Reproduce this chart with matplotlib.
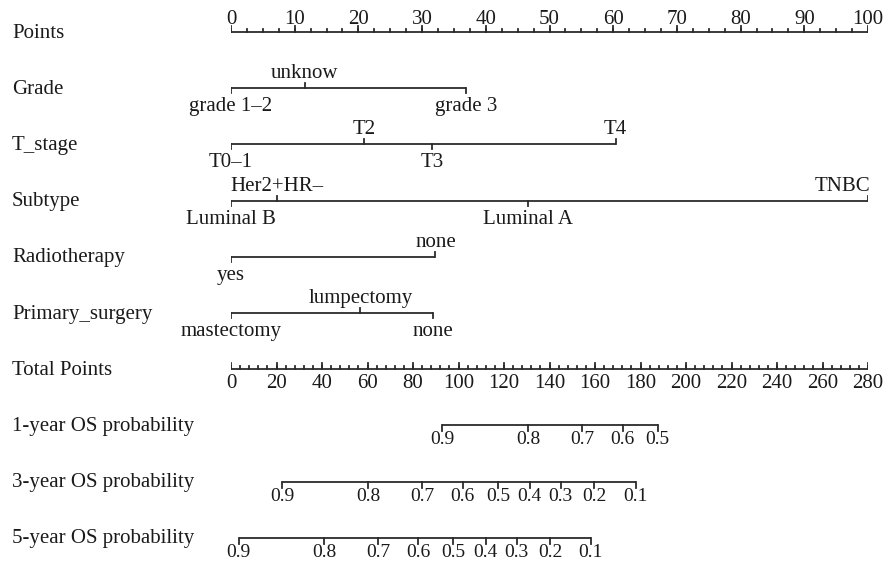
import numpy as np
import matplotlib.pyplot as plt

plt.rcParams['font.family'] = ['Liberation Serif', 'DejaVu Serif']

# row labels, top to bottom
row_names = ['Points', 'Grade', 'T_stage', 'Subtype', 'Radiotherapy',
             'Primary_surgery', 'Total Points', '1-year OS probability',
             '3-year OS probability', '5-year OS probability']

# points scale
points_major = np.arange(0, 101, 10)
points_minor = np.arange(0, 100.1, 2.5)

# predictors: level names and their points
grade_levels = ['grade 1–2', 'unknow', 'grade 3']
grade_points = [0, 11.6, 36.9]
tstage_levels = ['T0–1', 'T2', 'T3', 'T4']
tstage_points = [0, 20.9, 31.6, 60.4]
subtype_levels = ['Luminal B', 'Her2+HR–', 'Luminal A', 'TNBC']
subtype_points = [0, 7.2, 46.6, 100]
radio_levels = ['yes', 'none']
radio_points = [0, 32.1]
surgery_levels = ['mastectomy', 'lumpectomy', 'none']
surgery_points = [0, 20.3, 31.7]

# total points scale
total_max = 280
total_major = np.arange(0, 281, 20)
total_minor = np.arange(0, 281, 4)

# survival probability scales (value -> total points)
os1_probs = [0.9, 0.8, 0.7, 0.6, 0.5]
os1_total = [92.9, 130.5, 154.3, 172.2, 187.6]
os3_probs = [0.9, 0.8, 0.7, 0.6, 0.5, 0.4, 0.3, 0.2, 0.1]
os3_total = [22.4, 60.4, 84.0, 101.8, 117.4, 131.3, 144.9, 159.6, 177.9]
os5_probs = [0.9, 0.8, 0.7, 0.6, 0.5, 0.4, 0.3, 0.2, 0.1]
os5_total = [3.4, 40.9, 64.6, 82.3, 97.7, 111.9, 125.6, 140.2, 158.1]

W, H = 888, 567
fig = plt.figure(figsize=(W / 100, H / 100), dpi=100)
x0_px, x1_px = 231, 868
row0_px, row_gap = 32, 56.2
ax = fig.add_axes([x0_px / W, 0, (x1_px - x0_px) / W, 1])
ax.set_xlim(0, 100)
ax.set_ylim(-(H - row0_px) / row_gap, row0_px / row_gap)
ax.axis('off')

px = 1 / row_gap  # one pixel in y data units
xpx = 100 / (x1_px - x0_px)  # one pixel in x data units
col = '#2b2b2b'
tcol = '#1a1a1a'
lw = 1.3
fs = 15

for i, name in enumerate(row_names):
    ax.text(-(x0_px - 12) * xpx, -i - 1 * px, name, fontsize=fs,
            ha='left', va='center', color=tcol, clip_on=False)

# Points axis
y = 0
ax.plot([0, 100], [y, y], color=col, lw=lw, solid_capstyle='butt')
for v in points_minor:
    ax.plot([v, v], [y, y + 3 * px], color=col, lw=lw)
for v in points_major:
    ax.plot([v, v], [y, y + 6 * px], color=col, lw=lw)
    ax.text(v, y + 3 * px, f'{v:d}', fontsize=fs, ha='center', va='bottom',
            color=tcol)


def cat_axis(row, levels, pts):
    y = -row
    ax.plot([min(pts), max(pts)], [y, y], color=col, lw=lw,
            solid_capstyle='butt')
    for k, (lab, p) in enumerate(zip(levels, pts)):
        # keep the last label inside the figure
        ha = 'right' if p >= 99 else 'center'
        tx = p + 2 * xpx if p >= 99 else p
        if k % 2 == 0:
            ax.plot([p, p], [y, y - 5 * px], color=col, lw=lw)
            ax.text(tx, y - 9 * px, lab, fontsize=fs, ha=ha, va='top',
                    color=tcol, clip_on=False)
        else:
            ax.plot([p, p], [y, y + 5 * px], color=col, lw=lw)
            ax.text(tx, y + 10 * px, lab, fontsize=fs, ha=ha,
                    va='baseline', color=tcol, clip_on=False)


cat_axis(1, grade_levels, grade_points)
cat_axis(2, tstage_levels, tstage_points)
cat_axis(3, subtype_levels, subtype_points)
cat_axis(4, radio_levels, radio_points)
cat_axis(5, surgery_levels, surgery_points)

# Total points axis
y = -6
sc = 100 / total_max
ax.plot([0, 100], [y, y], color=col, lw=lw, solid_capstyle='butt')
for v in total_minor:
    ax.plot([v * sc, v * sc], [y, y + 3 * px], color=col, lw=lw)
for v in total_major:
    ax.plot([v * sc, v * sc], [y, y + 6 * px], color=col, lw=lw)
    ax.text(v * sc, y - 5 * px, f'{v:d}', fontsize=fs, ha='center', va='top',
            color=tcol)


def prob_axis(row, probs, totals):
    y = -row
    xs = [t * sc for t in totals]
    ax.plot([min(xs), max(xs)], [y, y], color=col, lw=lw,
            solid_capstyle='butt')
    for p, x in zip(probs, xs):
        ax.plot([x, x], [y, y - 6 * px], color=col, lw=lw)
        ax.text(x, y - 6 * px, f'{p:.1f}', fontsize=14, ha='center', va='top',
                color=tcol)


prob_axis(7, os1_probs, os1_total)
prob_axis(8, os3_probs, os3_total)
prob_axis(9, os5_probs, os5_total)

fig.savefig('out.png', dpi=100)
